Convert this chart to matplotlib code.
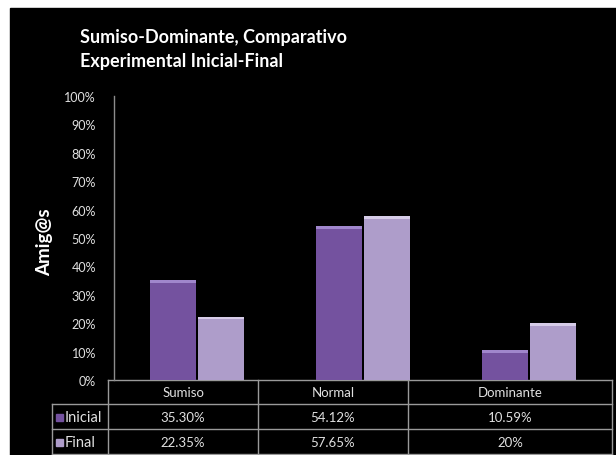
import matplotlib
matplotlib.use("Agg")
import matplotlib.pyplot as plt
import numpy as np
from matplotlib.patches import Rectangle
from matplotlib.lines import Line2D

categories = ["Sumiso", "Normal", "Dominante"]
series_names = ["Inicial", "Final"]
inicial = [35.30, 54.12, 10.59]
final = [22.35, 57.65, 20.0]
inicial_txt = ["35.30%", "54.12%", "10.59%"]
final_txt = ["22.35%", "57.65%", "20%"]
yticks = list(range(0, 101, 10))

W, H = 616, 456
plt.rcParams['font.family'] = ['Lato', 'DejaVu Sans']

fig = plt.figure(figsize=(W / 100, H / 100), dpi=100, facecolor="white")


def px(x, y):
    return x / W, 1 - y / H


# black slide background
fig.patches.append(Rectangle(px(10, H), (W - 10) / W, (H - 9) / H,
                             transform=fig.transFigure, color="black", zorder=-5))

ax = fig.add_axes([114 / W, 1 - 381 / H, (612 - 114) / W, (381 - 97) / H], zorder=2)
ax.patch.set_alpha(0)

c_ini = "#74529f"
c_fin = "#ae9dca"
c_ini_top = "#a086cc"
c_fin_top = "#d6cce8"
x = np.arange(len(categories))
w = 0.275
off = 0.145
for vals, shift, col, top in [(inicial, -off, c_ini, c_ini_top), (final, off, c_fin, c_fin_top)]:
    ax.bar(x + shift, vals, width=w, color=col, zorder=2)
    # lighter bevel strip at the top of each bar
    ax.bar(x + shift, [1.0] * len(vals), bottom=[v - 1.0 for v in vals],
           width=w, color=top, zorder=3)

ax.set_xlim(-0.5, 2.5)
ax.set_ylim(0, 100)
ax.set_yticks(yticks)
ax.set_yticklabels([f"{t}%" for t in yticks])
ax.tick_params(axis="y", colors="#7f7f7f", labelcolor="#e0e0e0", labelsize=9,
               length=0, pad=13)
ax.set_xticks([])
for s in ["top", "right", "bottom"]:
    ax.spines[s].set_visible(False)
ax.spines["left"].set_color("#8c8c8c")
ax.spines["left"].set_linewidth(1.0)

fig.text(*px(45, 242), "Amig@s", rotation=90, color="white", fontsize=13.5,
         fontweight="bold", ha="center", va="center")

fig.text(*px(80, 38), "Sumiso-Dominante, Comparativo", color="white",
         fontsize=13, fontweight="bold", ha="left", va="center")
fig.text(*px(80, 62), "Experimental Inicial-Final", color="white",
         fontsize=13, fontweight="bold", ha="left", va="center")

# data table under the plot
line_col = "#9a9a9a"
col_edges = [108, 258, 408, 612]
row_edges = [381, 405, 430, 455]
label_left = 52


def hline(x0, x1, y):
    fig.add_artist(Line2D([x0 / W, x1 / W], [1 - y / H, 1 - y / H],
                          transform=fig.transFigure, color=line_col, lw=1))


def vline(xv, y0, y1):
    fig.add_artist(Line2D([xv / W, xv / W], [1 - y0 / H, 1 - y1 / H],
                          transform=fig.transFigure, color=line_col, lw=1))


hline(col_edges[0], col_edges[-1], row_edges[0])
for yv in row_edges[1:]:
    hline(label_left, col_edges[-1], yv)
for xv in col_edges:
    vline(xv, row_edges[0], row_edges[-1])
vline(label_left, row_edges[1], row_edges[-1])

for i, cat in enumerate(categories):
    cx = (col_edges[i] + col_edges[i + 1]) / 2
    fig.text(*px(cx, 393), cat, color="#e0e0e0", fontsize=9.5, ha="center", va="center")
    fig.text(*px(cx, 418), inicial_txt[i], color="#e0e0e0", fontsize=9.5, ha="center", va="center")
    fig.text(*px(cx, 443), final_txt[i], color="#e0e0e0", fontsize=9.5, ha="center", va="center")

for name, yv, col in [(series_names[0], 418, c_ini), (series_names[1], 443, c_fin)]:
    fig.patches.append(Rectangle(px(56, yv + 3.5), 7 / W, 7 / H,
                                 transform=fig.transFigure, color=col, zorder=3))
    fig.text(*px(65, yv), name, color="#e0e0e0", fontsize=10.5, ha="left", va="center")

fig.savefig("out.png", dpi=100, facecolor="white")
